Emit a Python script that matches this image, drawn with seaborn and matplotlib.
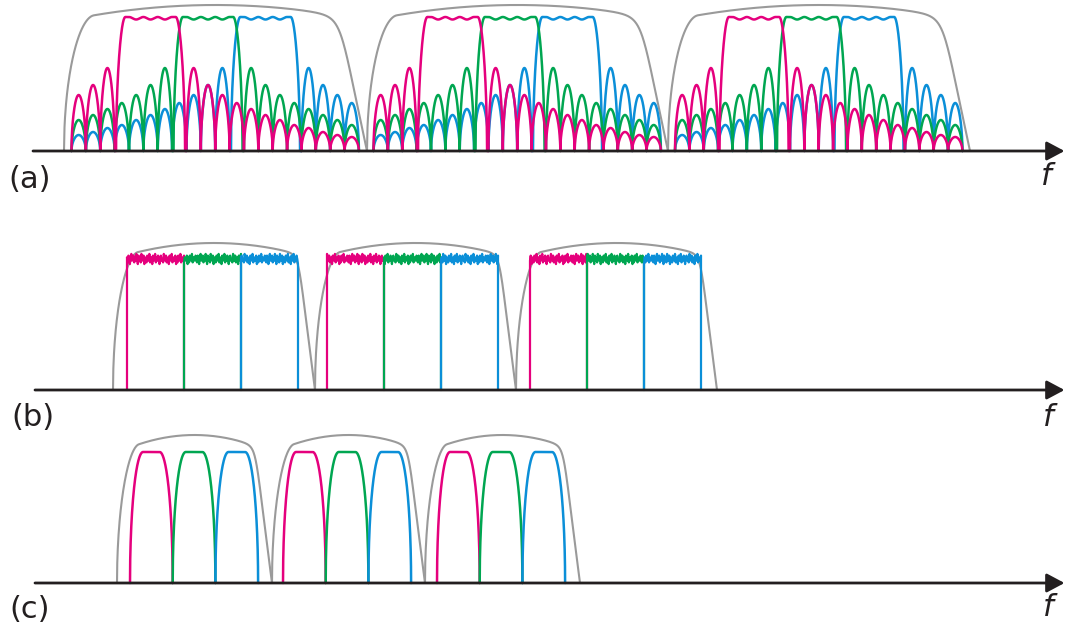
import numpy as np
import pandas as pd
import matplotlib
matplotlib.use("Agg")
import matplotlib.pyplot as plt
import seaborn as sns

# ---------------- data (pixel-like frequency / level units) ----------------
CHANNEL_COLORS = ["#E5007D", "#00A651", "#0B8FD8"]   # magenta, green, blue
ENVELOPE_COLOR = "#9A9A9A"
AXIS_COLOR = "#231F20"
PANEL_LABELS = ["(a)", "(b)", "(c)"]
FREQ_LABEL = "f"

# panel (a): OFDM-like spectra with sidelobes
A_GROUP_START = [71.5, 373.5, 675.0]        # first null of each group
A_LOBE_WIDTH = 14.37
A_LOBES_PER_GROUP = 20
A_MAIN_FIRST_LOBE = [3, 7, 11]               # main lobe start (in lobes) per channel
A_MAIN_LOBES = 5
A_MAIN_HEIGHT = 134
A_MAIN_RIPPLE = 2.5
A_SIDELOBE_HEIGHT = [83, 66, 56, 48, 42, 36, 31, 26, 23, 19, 16, 14]
A_ENV_LEFT = [64, 367, 668]
A_ENV_RIGHT = [367, 668, 970]

# panel (b): rectangular spectra with noise
B_GROUP_START = [127, 327, 530]
B_CHANNEL_WIDTH = 57
B_LEVEL = 131
B_NOISE = [1, -2, 2, 0, -3, 1, 3, -1, 0, 2, -2, 1, -1, 3, 0, -3, 2, -1, 1, -2,
           3, 0, -1, 2, -3, 1, 0, -2, 2, 1, -1, 3, -2, 0, 1, -3, 2, -1, 0, 3,
           -2, 1, -1, 2, 0, -3, 1, 2, -1, 0, -2, 3, 1, -1, 2, -2, 0, 1, -3, 2,
           0, -1, 3, -2, 1, 0, -1, 2, -3, 1, -2, 2, 0, -1, 3, -2, 1, 0, -1, 2]
B_ENV_LEFT = [113, 315, 516]
B_ENV_RIGHT = [315, 516, 717]

# panel (c): filtered channels
C_GROUP_START = [130, 283, 437]
C_CHANNEL_WIDTH = 42.7
C_LEVEL = 131
C_ENV_LEFT = [117, 272, 425]
C_ENV_RIGHT = [272, 425, 580]

# panel geometry: (top row, bottom row, baseline row) in pixels
FIG_W, FIG_H = 1065, 632
PANELS = [(0, 205, 151), (200, 430, 390), (430, 632, 583)]
AXIS_START = [33, 35, 35]
LABEL_POS = [(30, 180), (33, 418), (30, 610)]
F_POS = [(1046, 177), (1048, 417), (1048, 608)]
ENV_PARAMS = [dict(top=146, shoulder=130, wl=30, L=28, n=6),
              dict(top=147, shoulder=131, wl=25, L=17, n=8),
              dict(top=148, shoulder=130, wl=22, L=17, n=8)]


# ---------------- shape helpers ----------------
def envelope(x0, x1, top, shoulder, wl, L, n):
    x = np.linspace(x0, x1, 600)
    u = (x - x0) / (x1 - x0)
    dome = shoulder + (top - shoulder) * (1 - (2 * u - 1) ** 2)
    t = np.clip((x - x0) / wl, 0, 1)
    fl = np.sqrt(1 - (1 - t) ** 2)
    r = np.clip((x1 - x) / L, 0, None)
    fr = r / (1 + r ** n) ** (1.0 / n)
    return x, dome * fl * fr


def channel_a(g0, c):
    u = np.linspace(0, A_LOBES_PER_GROUP, 4001)
    k = np.clip(np.floor(u), 0, A_LOBES_PER_GROUP - 1).astype(int)
    t = u - k
    m0 = A_MAIN_FIRST_LOBE[c]
    y = np.zeros_like(u)
    heights = np.array(A_SIDELOBE_HEIGHT)
    left = k < m0
    right = k >= m0 + A_MAIN_LOBES
    d = np.where(left, m0 - k, k - (m0 + A_MAIN_LOBES) + 1)
    side = left | right
    y[side] = heights[np.clip(d[side] - 1, 0, len(heights) - 1)] * \
        np.sin(np.pi * t[side]) ** 0.5
    main = ~side
    uu = u[main] - m0
    dd = np.minimum(uu, A_MAIN_LOBES - uu)
    e = np.clip((dd - 0.1) / 0.65, 0, 1)
    edge = np.sin(np.pi / 2 * e) ** 0.5
    inner = (uu > 1) & (uu < A_MAIN_LOBES - 1)
    ripple = np.where(inner, A_MAIN_RIPPLE * (1 - np.cos(2 * np.pi * uu)) / 2, 0)
    y[main] = (A_MAIN_HEIGHT - ripple) * edge
    return g0 + u * A_LOBE_WIDTH, y


def channel_b(x0, c, g):
    n = len(B_NOISE)
    noise = np.roll(np.array(B_NOISE, float), 17 * c + 29 * g) * 1.7
    xt = np.linspace(x0, x0 + B_CHANNEL_WIDTH, n)
    x = np.concatenate([[x0], xt, [x0 + B_CHANNEL_WIDTH]])
    y = np.concatenate([[0], B_LEVEL + noise, [0]])
    return x, y


def channel_c(x0):
    hw = C_CHANNEL_WIDTH / 2
    x = np.linspace(x0, x0 + C_CHANNEL_WIDTH, 400)
    r = np.abs(x - (x0 + hw)) / hw
    flat = 0.39
    s = np.clip((r - flat) / (1 - flat), 0, 1)
    y = C_LEVEL * np.sqrt(np.clip(1 - s ** 2, 0, 1))
    return x, y


# ---------------- figure ----------------
sns.set_theme(style="white")
plt.rcParams["font.family"] = ["DejaVu Sans"]
fig = plt.figure(figsize=(FIG_W / 100, FIG_H / 100), dpi=100)
fig.patch.set_facecolor("white")

axes = []
for (top, bot, base) in PANELS:
    ax = fig.add_axes([0, 1 - bot / FIG_H, 1, (bot - top) / FIG_H])
    ax.set_xlim(0, FIG_W)
    ax.set_ylim(-(bot - base), base - top)
    ax.set_axis_off()
    ax.patch.set_visible(False)
    axes.append(ax)

LW_CH = 1.8
LW_ENV = 1.5


def draw(ax, x, y, color, lw, z):
    df = pd.DataFrame({"f": x, "level": y})
    sns.lineplot(data=df, x="f", y="level", ax=ax, color=color, lw=lw,
                 sort=False, estimator=None, zorder=z, legend=False)


# panel (a)
ax = axes[0]
for g in range(3):
    x, y = envelope(A_ENV_LEFT[g], A_ENV_RIGHT[g], **ENV_PARAMS[0])
    draw(ax, x, y, ENVELOPE_COLOR, LW_ENV, 2)
for g in range(3):
    for c in [2, 1, 0]:
        x, y = channel_a(A_GROUP_START[g], c)
        draw(ax, x, y, CHANNEL_COLORS[c], LW_CH, 3 + (2 - c))

# panel (b)
ax = axes[1]
for g in range(3):
    x, y = envelope(B_ENV_LEFT[g], B_ENV_RIGHT[g], **ENV_PARAMS[1])
    draw(ax, x, y, ENVELOPE_COLOR, LW_ENV, 2)
for g in range(3):
    for c in range(3):
        x, y = channel_b(B_GROUP_START[g] + c * B_CHANNEL_WIDTH, c, g)
        draw(ax, x, y, CHANNEL_COLORS[c], 1.6, 3 + c)

# panel (c)
ax = axes[2]
for g in range(3):
    x, y = envelope(C_ENV_LEFT[g], C_ENV_RIGHT[g], **ENV_PARAMS[2])
    draw(ax, x, y, ENVELOPE_COLOR, LW_ENV, 2)
for g in range(3):
    for c in range(3):
        x, y = channel_c(C_GROUP_START[g] + c * C_CHANNEL_WIDTH)
        draw(ax, x, y, CHANNEL_COLORS[c], LW_CH, 3 + c)

# axes arrows and labels
for i, ax in enumerate(axes):
    base = PANELS[i][2]
    ax.annotate("", xy=(FIG_W - 0.5, 0), xytext=(AXIS_START[i], 0),
                arrowprops=dict(arrowstyle="-|>,head_length=0.6,head_width=0.32",
                                color=AXIS_COLOR, lw=2.0, shrinkA=0, shrinkB=0,
                                mutation_scale=18),
                annotation_clip=False, zorder=10)
    lx, ly = LABEL_POS[i]
    ax.text(lx, base - ly, PANEL_LABELS[i], ha="center", va="center",
            fontsize=22, color=AXIS_COLOR, clip_on=False)
    fx, fy = F_POS[i]
    ax.text(fx, base - fy, FREQ_LABEL, ha="center", va="center",
            fontsize=22, style="italic", color=AXIS_COLOR, clip_on=False)

fig.savefig("out.png", dpi=100, facecolor="white")
